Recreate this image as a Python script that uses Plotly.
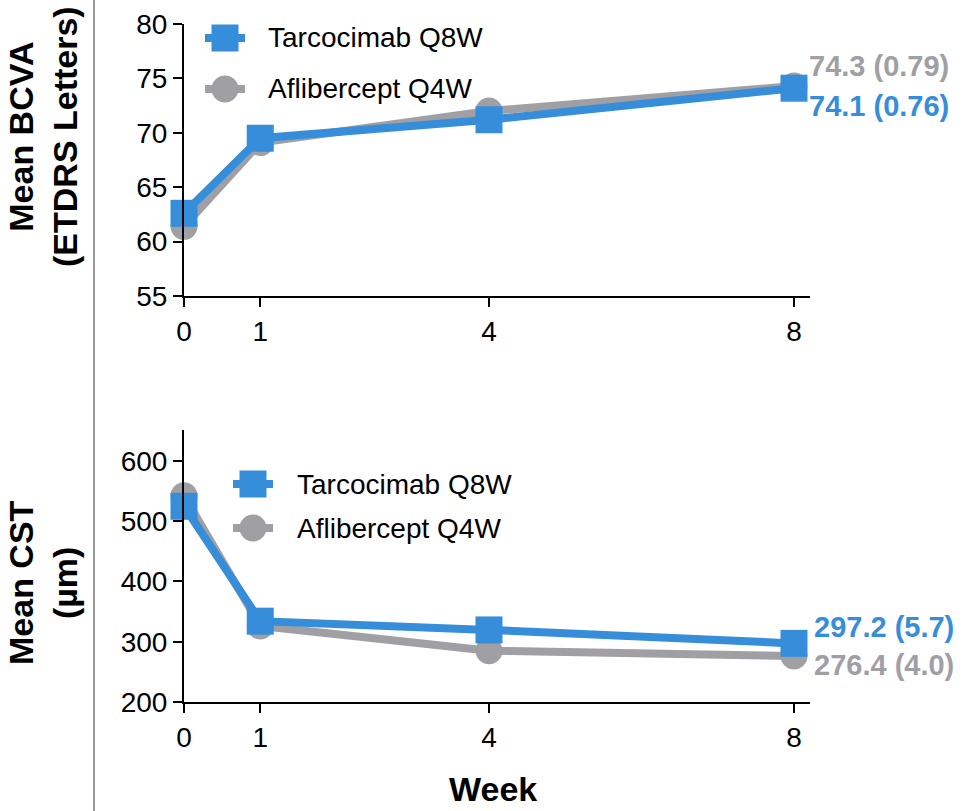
import plotly.graph_objects as go

# Visit weeks and mean values per arm
weeks = [0, 1, 4, 8]
week_ticks = ["0", "1", "4", "8"]

bcva_tarcocimab = [62.6, 69.5, 71.2, 74.1]
bcva_aflibercept = [61.4, 69.1, 72.0, 74.3]
cst_tarcocimab = [524.5, 334, 319.5, 297.2]
cst_aflibercept = [542, 326, 285, 276.4]

arms = ["Tarcocimab Q8W", "Aflibercept Q4W"]

# Week-8 summary labels: mean (SE)
bcva_labels = {"Tarcocimab Q8W": "74.1 (0.76)", "Aflibercept Q4W": "74.3 (0.79)"}
cst_labels = {"Tarcocimab Q8W": "297.2 (5.7)", "Aflibercept Q4W": "276.4 (4.0)"}

BLUE = "#368DD9"
GRAY = "#A0A0A4"
FONT = "Liberation Sans, Arial, sans-serif"
W, H = 968, 811
MARKER = 27
LINE_W = 8


def px(x):
    return x / W


def py(y):
    return 1 - y / H


fig = go.Figure()


def add_arm(x, y, name, color, symbol, xa, ya):
    fig.add_trace(go.Scatter(
        x=x, y=y, name=name, mode="lines+markers",
        line=dict(color=color, width=LINE_W),
        marker=dict(color=color, symbol=symbol, size=MARKER, line=dict(width=0)),
        xaxis=xa, yaxis=ya, cliponaxis=False, showlegend=False,
    ))


# Aflibercept drawn first so Tarcocimab sits on top
add_arm(weeks, bcva_aflibercept, arms[1], GRAY, "circle", "x", "y")
add_arm(weeks, bcva_tarcocimab, arms[0], BLUE, "square", "x", "y")
add_arm(weeks, cst_aflibercept, arms[1], GRAY, "circle", "x2", "y2")
add_arm(weeks, cst_tarcocimab, arms[0], BLUE, "square", "x2", "y2")

axis_common = dict(
    showline=True, linecolor="black", linewidth=2,
    ticks="outside", ticklen=9, tickwidth=2, tickcolor="black",
    showgrid=False, zeroline=False, automargin=False,
    tickfont=dict(family=FONT, size=28, color="black"),
)

fig.update_layout(
    width=W, height=H,
    margin=dict(l=0, r=0, t=0, b=0, pad=0, autoexpand=False),
    paper_bgcolor="white", plot_bgcolor="white",
    font=dict(family=FONT, color="black"),
    showlegend=False,
    xaxis=dict(domain=[px(184), px(810)], range=[0, 8.21], tickvals=weeks,
               ticktext=week_ticks, anchor="y", **axis_common),
    yaxis=dict(domain=[py(296), py(24)], range=[55, 80], dtick=5,
               anchor="x", **axis_common),
    xaxis2=dict(domain=[px(184), px(810)], range=[0, 8.21], tickvals=weeks,
                ticktext=week_ticks, anchor="y2", **axis_common),
    yaxis2=dict(domain=[py(702), py(430)], range=[200, 651],
                tickvals=[200, 300, 400, 500, 600], anchor="x2", **axis_common),
)

# Left divider rule
fig.add_shape(type="line", xref="paper", yref="paper", x0=px(94), x1=px(94),
              y0=0, y1=1, line=dict(color="#999999", width=2))

# Axis titles
title_font = dict(size=34, family=FONT, color="black")
fig.add_annotation(text="<b>Mean BCVA</b><br><b>(ETDRS Letters)</b>", textangle=-90,
                   xref="paper", yref="paper", x=px(43), y=py(137),
                   xanchor="center", yanchor="middle", showarrow=False, font=title_font)
fig.add_annotation(text="<b>Mean CST</b><br><b>(µm)</b>", textangle=-90,
                   xref="paper", yref="paper", x=px(43), y=py(583),
                   xanchor="center", yanchor="middle", showarrow=False, font=title_font)
fig.add_annotation(text="<b>Week</b>", xref="paper", yref="paper", x=px(493), y=py(789),
                   xanchor="center", yanchor="middle", showarrow=False, font=title_font)


# Legend keys: line segment with the arm's marker, then the arm name
def legend_entry(x_left, y_mid, name, color, symbol, text_x):
    fig.add_shape(type="line", xref="paper", yref="paper",
                  x0=px(x_left), x1=px(x_left + 40), y0=py(y_mid), y1=py(y_mid),
                  line=dict(color=color, width=LINE_W), layer="above")
    cx = x_left + 20
    r = MARKER / 2
    fig.add_shape(type="rect" if symbol == "square" else "circle",
                  xref="paper", yref="paper",
                  x0=px(cx - r), x1=px(cx + r), y0=py(y_mid + r), y1=py(y_mid - r),
                  fillcolor=color, line=dict(width=0), layer="above")
    fig.add_annotation(text=name, xref="paper", yref="paper", x=px(text_x), y=py(y_mid),
                       xanchor="left", yanchor="middle", showarrow=False,
                       font=dict(size=28, family=FONT, color="black"))


legend_entry(205, 38, arms[0], BLUE, "square", 266)
legend_entry(205, 89, arms[1], GRAY, "circle", 266)
legend_entry(233, 484, arms[0], BLUE, "square", 295)
legend_entry(233, 528, arms[1], GRAY, "circle", 295)

# Week-8 value labels
end = weeks[-1]
label_font = 29
fig.add_annotation(text="<b>" + bcva_labels[arms[1]] + "</b>", x=end,
                   y=bcva_aflibercept[-1], xref="x", yref="y", xanchor="left",
                   xshift=13, yshift=20, showarrow=False,
                   font=dict(size=label_font, family=FONT, color=GRAY))
fig.add_annotation(text="<b>" + bcva_labels[arms[0]] + "</b>", x=end,
                   y=bcva_tarcocimab[-1], xref="x", yref="y", xanchor="left",
                   xshift=13, yshift=-18, showarrow=False,
                   font=dict(size=label_font, family=FONT, color=BLUE))
fig.add_annotation(text="<b>" + cst_labels[arms[0]] + "</b>", x=end,
                   y=cst_tarcocimab[-1], xref="x2", yref="y2", xanchor="left",
                   xshift=18, yshift=16, showarrow=False,
                   font=dict(size=label_font, family=FONT, color=BLUE))
fig.add_annotation(text="<b>" + cst_labels[arms[1]] + "</b>", x=end,
                   y=cst_aflibercept[-1], xref="x2", yref="y2", xanchor="left",
                   xshift=18, yshift=-9, showarrow=False,
                   font=dict(size=label_font, family=FONT, color=GRAY))

fig.write_html("out.html")
